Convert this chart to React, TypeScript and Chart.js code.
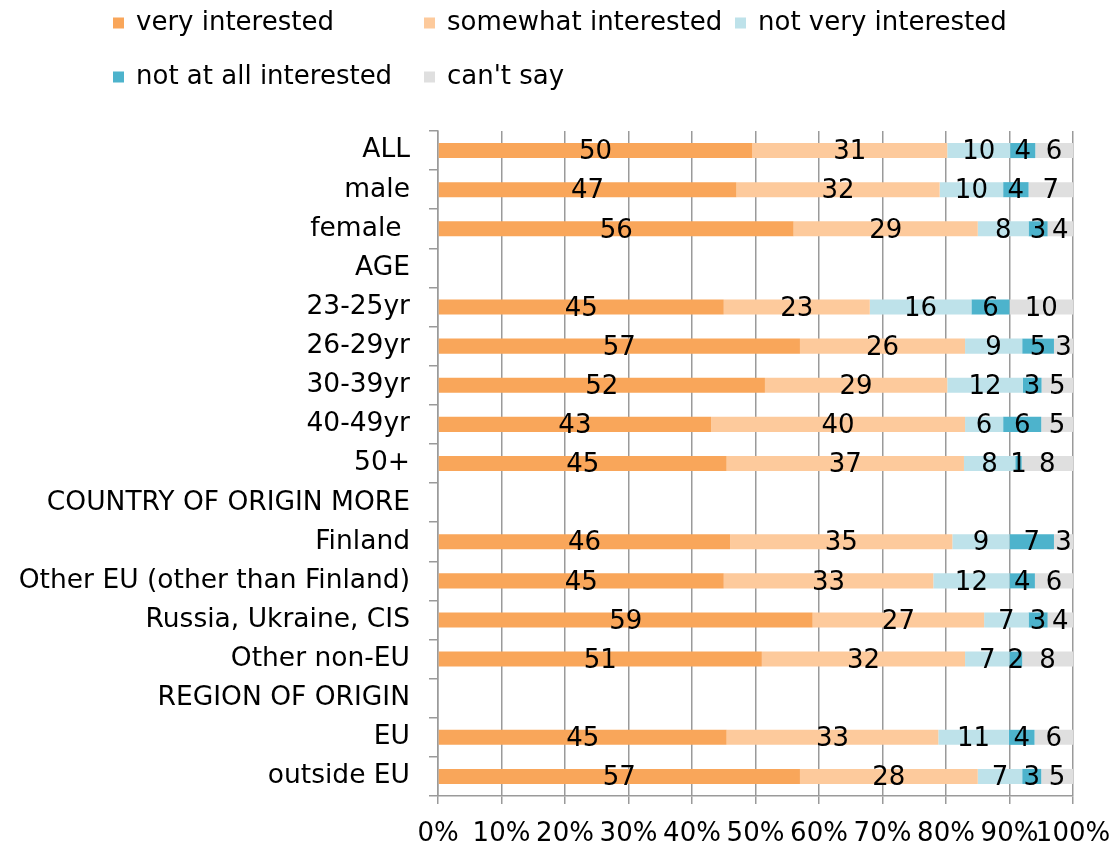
import React, { useEffect, useRef } from 'react';
import { Chart, registerables } from 'chart.js';

Chart.register(...registerables);

const categories = [
  'ALL',
  'male',
  'female ',
  'AGE',
  '23-25yr',
  '26-29yr',
  '30-39yr',
  '40-49yr',
  '50+',
  'COUNTRY OF ORIGIN MORE',
  'Finland',
  'Other EU (other than Finland)',
  'Russia, Ukraine, CIS',
  'Other non-EU',
  'REGION OF ORIGIN',
  'EU',
  'outside EU',
];

const seriesNames = [
  'very interested',
  'somewhat interested',
  'not very interested',
  'not at all interested',
  "can't say",
];

const veryInterested = [50, 47, 56, null, 45, 57, 52, 43, 45, null, 46, 45, 59, 51, null, 45, 57];
const somewhatInterested = [31, 32, 29, null, 23, 26, 29, 40, 37, null, 35, 33, 27, 32, null, 33, 28];
const notVeryInterested = [10, 10, 8, null, 16, 9, 12, 6, 8, null, 9, 12, 7, 7, null, 11, 7];
const notAtAllInterested = [4, 4, 3, null, 6, 5, 3, 6, 1, null, 7, 4, 3, 2, null, 4, 3];
const cantSay = [6, 7, 4, null, 10, 3, 5, 5, 8, null, 3, 6, 4, 8, null, 6, 5];

const xTickLabels = ['0%', '10%', '20%', '30%', '40%', '50%', '60%', '70%', '80%', '90%', '100%'];

const seriesColors = ['#F9A65A', '#FDCA9C', '#BEE2EA', '#4DB3CC', '#DFDFDF'];

const FAMILY = '"DejaVu Sans", Verdana, sans-serif';
const FONT_SIZE = 26;

const rawSeries = [veryInterested, somewhatInterested, notVeryInterested, notAtAllInterested, cantSay];

const rowTotals = categories.map((_, i) =>
  rawSeries.reduce((acc, s) => acc + (s[i] == null ? 0 : (s[i] as number)), 0)
);

const legendPlugin = {
  id: 'gridLegend',
  afterDraw(chart: any) {
    const ctx = chart.ctx;
    ctx.save();
    ctx.font = `${FONT_SIZE}px ${FAMILY}`;
    ctx.textBaseline = 'middle';
    ctx.textAlign = 'left';
    chart.data.datasets.forEach((ds: any, i: number) => {
      const col = i % 3;
      const row = Math.floor(i / 3);
      const x = 113 + col * 311;
      const y = 23 + row * 54;
      ctx.fillStyle = ds.backgroundColor;
      ctx.fillRect(x, y - 5.5, 11, 11);
      ctx.fillStyle = '#000';
      ctx.fillText(ds.label, x + 23, y);
    });
    ctx.restore();
  },
};

const valueLabelPlugin = {
  id: 'valueLabels',
  afterDatasetsDraw(chart: any) {
    const ctx = chart.ctx;
    ctx.save();
    ctx.font = `${FONT_SIZE}px ${FAMILY}`;
    ctx.textBaseline = 'middle';
    ctx.textAlign = 'center';
    ctx.fillStyle = '#000';
    chart.data.datasets.forEach((_ds: any, di: number) => {
      const meta = chart.getDatasetMeta(di);
      meta.data.forEach((el: any, i: number) => {
        const raw = rawSeries[di][i];
        if (raw == null) return;
        const { x, y, base } = el.getProps(['x', 'y', 'base'], true);
        ctx.fillText(String(raw), (x + base) / 2, y + 2);
      });
    });
    ctx.restore();
  },
};

export default function App() {
  const canvasRef = useRef<HTMLCanvasElement | null>(null);

  useEffect(() => {
    document.body.style.margin = '0';
    const canvas = canvasRef.current;
    if (!canvas) return;

    const datasets = rawSeries.map((series, si) => ({
      label: seriesNames[si],
      data: series.map((v, i) => (v == null ? null : ((v as number) / rowTotals[i]) * 100)),
      backgroundColor: seriesColors[si],
      borderWidth: 0,
      barPercentage: 0.385,
      categoryPercentage: 1,
    }));

    const font = { family: FAMILY, size: FONT_SIZE };

    const chart = new Chart(canvas, {
      type: 'bar',
      data: { labels: categories, datasets },
      options: {
        indexAxis: 'y',
        animation: false,
        responsive: true,
        maintainAspectRatio: false,
        layout: { padding: { top: 131, right: 42, left: 0, bottom: 0 } },
        plugins: {
          legend: { display: false },
          tooltip: { enabled: false },
        },
        scales: {
          x: {
            type: 'linear',
            stacked: true,
            min: 0,
            max: 100,
            position: 'bottom',
            ticks: {
              stepSize: 10,
              autoSkip: false,
              maxRotation: 0,
              color: '#000',
              font,
              padding: 15,
              callback: (_v: any, i: number) => xTickLabels[i],
            },
            grid: { color: '#9A9A9A', lineWidth: 1.5, tickLength: 8, drawTicks: true },
            border: { color: '#9A9A9A', width: 1.5 },
            afterFit: (s: any) => {
              s.height = 50;
              s.paddingRight = 0;
              s.paddingLeft = 0;
            },
          },
          y: {
            type: 'category',
            stacked: true,
            ticks: { autoSkip: false, color: '#000', font: { family: FAMILY, size: 26.5 }, padding: 19 },
            grid: { drawOnChartArea: false, tickLength: 9, color: '#9A9A9A', lineWidth: 1.5, offset: true },
            border: { color: '#9A9A9A', width: 1.5 },
            afterFit: (s: any) => {
              s.width = 438;
              s.paddingTop = 0;
              s.paddingBottom = 0;
            },
          },
        },
      } as any,
      plugins: [legendPlugin, valueLabelPlugin],
    });

    return () => chart.destroy();
  }, []);

  return (
    <div style={{ position: 'relative', width: 1115, height: 846 }}>
      <canvas ref={canvasRef} />
    </div>
  );
}
